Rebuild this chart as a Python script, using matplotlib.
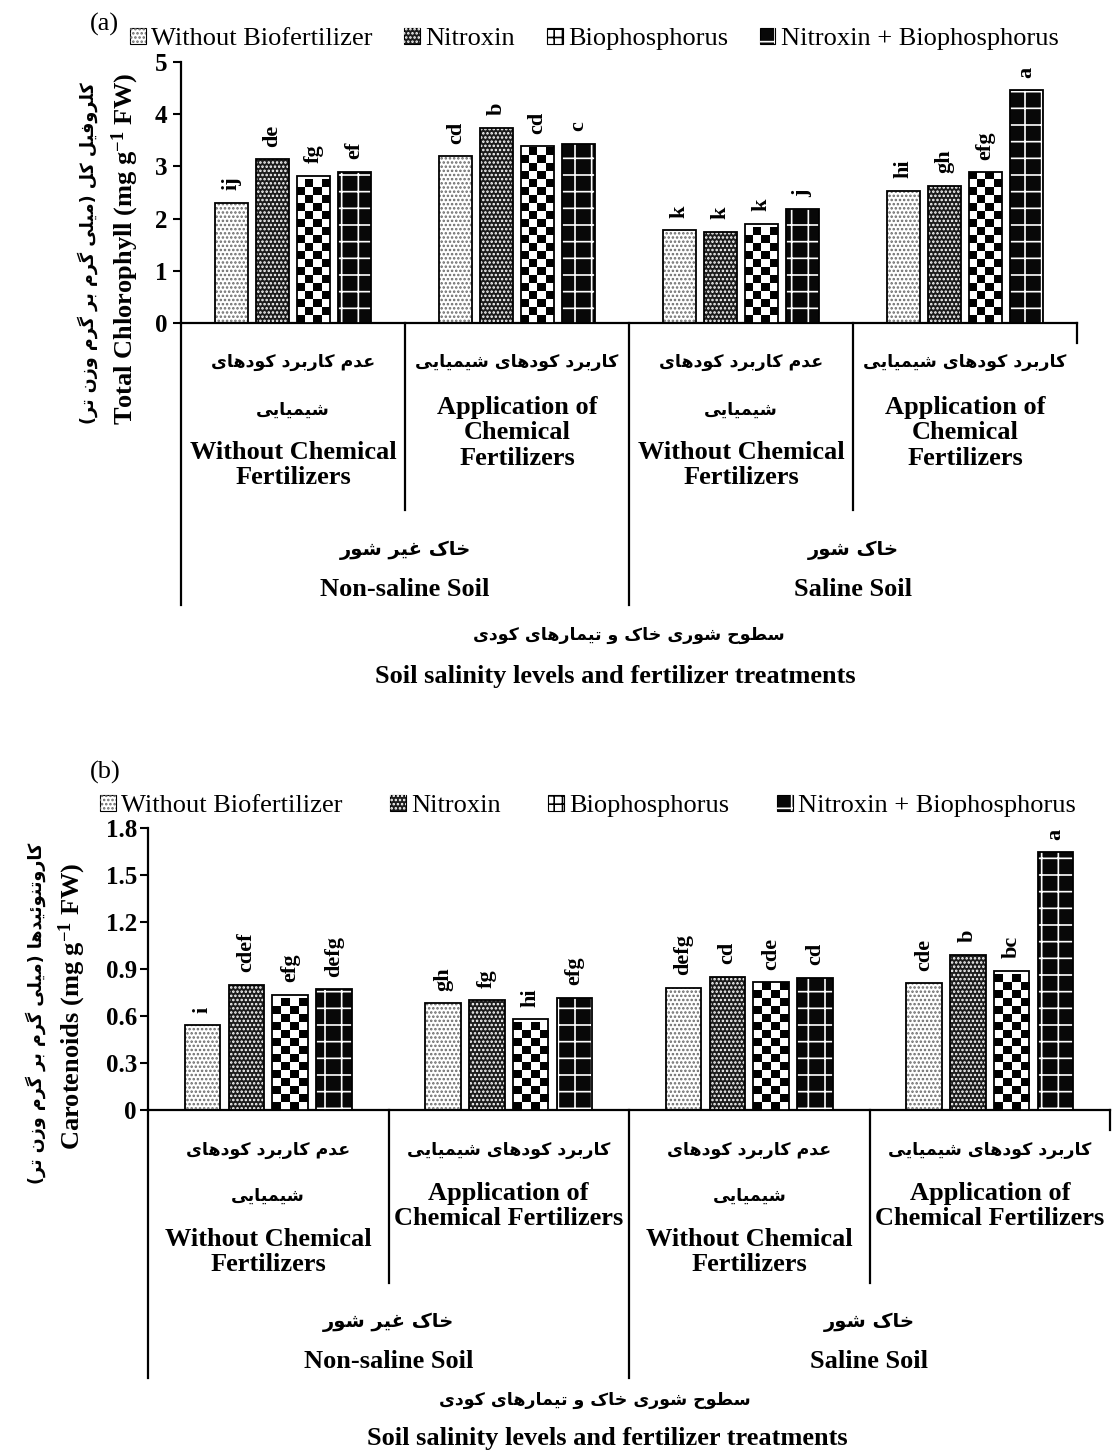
"""Total chlorophyll and carotenoids under soil salinity and fertilizer treatments."""

import matplotlib
matplotlib.use("Agg")
import matplotlib.pyplot as plt
import numpy as np
from matplotlib.font_manager import FontProperties
from matplotlib.legend_handler import HandlerTuple
from matplotlib.patches import Patch
from matplotlib.transforms import blended_transform_factory


# ---------------------------------------------------------------------------
# Data
# ---------------------------------------------------------------------------

series_names = ["Without Biofertilizer", "Nitroxin", "Biophosphorus",
                "Nitroxin + Biophosphorus"]

# groups: non-saline/no chem, non-saline/chem, saline/no chem, saline/chem
chlorophyll = [
    [2.30, 3.19, 1.78, 2.53],
    [3.14, 3.74, 1.75, 2.63],
    [2.82, 3.39, 1.90, 2.89],
    [2.90, 3.43, 2.18, 4.46],
]
chlorophyll_letters = [
    ["ij", "cd", "k", "hi"],
    ["de", "b", "k", "gh"],
    ["fg", "cd", "k", "efg"],
    ["ef", "c", "j", "a"],
]

carotenoids = [
    [0.54, 0.68, 0.78, 0.81],
    [0.80, 0.70, 0.85, 0.99],
    [0.735, 0.58, 0.815, 0.89],
    [0.77, 0.715, 0.845, 1.645],
]
carotenoid_letters = [
    ["i", "gh", "defg", "cde"],
    ["cdef", "fg", "cd", "b"],
    ["efg", "hi", "cde", "bc"],
    ["defg", "efg", "cd", "a"],
]

chl_ticks = [0, 1, 2, 3, 4, 5]
chl_ticklabels = ["0", "1", "2", "3", "4", "5"]
car_ticks = [0, 0.3, 0.6, 0.9, 1.2, 1.5, 1.8]
car_ticklabels = ["0", "0.3", "0.6", "0.9", "1.2", "1.5", "1.8"]

fert_fa = [["عدم کاربرد کودهای", "شیمیایی"], ["کاربرد کودهای شیمیایی"]] * 2
fert_en_a = ["Without Chemical\nFertilizers", "Application of\nChemical\nFertilizers"] * 2
fert_en_b = ["Without Chemical\nFertilizers", "Application of\nChemical Fertilizers"] * 2
soil_fa = ["خاک غیر شور", "خاک شور"]
soil_en = ["Non-saline Soil", "Saline Soil"]
xtitle_fa = "سطوح شوری خاک و تیمارهای کودی"
xtitle_en = "Soil salinity levels and fertilizer treatments"
ylabel_a_fa = "کلروفیل کل (میلی گرم بر گرم وزن تر)"
ylabel_a_en = r"Total Chlorophyll (mg g$^{-1}$ FW)"
ylabel_b_fa = "کاروتنوئیدها (میلی گرم بر گرم وزن تر)"
ylabel_b_en = r"Carotenoids (mg g$^{-1}$ FW)"


# ---------------------------------------------------------------------------
# Style
# ---------------------------------------------------------------------------

W, H = 1115, 1454
SERIF = "Liberation Serif"
PERSIAN = ["DejaVu Sans"]
plt.rcParams["mathtext.default"] = "regular"
plt.rcParams["hatch.linewidth"] = 1.2

FACES = ["white", "#1c1c1c", "white", "#080808"]
HATCHES = ["....", "....", None, "+"]
HATCH_COLORS = ["#6a6a6a", "white", None, "white"]
BAR_W = 0.147
BAR_STEP = 0.182


# ---------------------------------------------------------------------------
# Persian text helpers (matplotlib has no shaping / bidi)
# ---------------------------------------------------------------------------

# isolated, final, initial, medial
FORMS = {
    "ا": ("\uFE8D", "\uFE8E", None, None),
    "ب": ("\uFE8F", "\uFE90", "\uFE91", "\uFE92"),
    "ت": ("\uFE95", "\uFE96", "\uFE97", "\uFE98"),
    "ح": ("\uFEA1", "\uFEA2", "\uFEA3", "\uFEA4"),
    "خ": ("\uFEA5", "\uFEA6", "\uFEA7", "\uFEA8"),
    "د": ("\uFEA9", "\uFEAA", None, None),
    "ر": ("\uFEAD", "\uFEAE", None, None),
    "ز": ("\uFEAF", "\uFEB0", None, None),
    "س": ("\uFEB1", "\uFEB2", "\uFEB3", "\uFEB4"),
    "ش": ("\uFEB5", "\uFEB6", "\uFEB7", "\uFEB8"),
    "ط": ("\uFEC1", "\uFEC2", "\uFEC3", "\uFEC4"),
    "ع": ("\uFEC9", "\uFECA", "\uFECB", "\uFECC"),
    "غ": ("\uFECD", "\uFECE", "\uFECF", "\uFED0"),
    "ف": ("\uFED1", "\uFED2", "\uFED3", "\uFED4"),
    "ل": ("\uFEDD", "\uFEDE", "\uFEDF", "\uFEE0"),
    "م": ("\uFEE1", "\uFEE2", "\uFEE3", "\uFEE4"),
    "ن": ("\uFEE5", "\uFEE6", "\uFEE7", "\uFEE8"),
    "ه": ("\uFEE9", "\uFEEA", "\uFEEB", "\uFEEC"),
    "و": ("\uFEED", "\uFEEE", None, None),
    "ئ": ("\uFE89", "\uFE8A", "\uFE8B", "\uFE8C"),
    "ک": ("\uFB8E", "\uFB8F", "\uFB90", "\uFB91"),
    "گ": ("\uFB92", "\uFB93", "\uFB94", "\uFB95"),
    "ی": ("\uFBFC", "\uFBFD", "\uFBFE", "\uFBFF"),
}
MIRROR = {"(": ")", ")": "("}


def fa(text):
    """Shape Persian letters and reverse to visual (left-to-right) order."""
    out = []
    for i, ch in enumerate(text):
        if ch not in FORMS:
            out.append(MIRROR.get(ch, ch))
            continue
        prev = text[i - 1] if i > 0 else ""
        nxt = text[i + 1] if i + 1 < len(text) else ""
        join_prev = prev in FORMS and FORMS[prev][2] is not None
        join_next = nxt in FORMS and FORMS[ch][2] is not None
        iso, fin, ini, med = FORMS[ch]
        if join_prev and join_next:
            out.append(med)
        elif join_prev:
            out.append(fin)
        elif join_next:
            out.append(ini)
        else:
            out.append(iso)
    return "".join(reversed(out))


def fy(px):
    return 1 - px / H


# ---------------------------------------------------------------------------
# Panel
# ---------------------------------------------------------------------------

def add_checker(ax, patch, ppu_x, ppu_y, cell=8.0):
    x0, w, h = patch.get_x(), patch.get_width(), patch.get_height()
    ncol = max(1, int(round(w * ppu_x / cell)))
    nrow = max(1, int(round(h * ppu_y / cell)))
    board = np.indices((nrow, ncol)).sum(axis=0) % 2
    im = ax.imshow(board, cmap="gray", vmin=0, vmax=1, origin="lower",
                   extent=(x0, x0 + w, 0, nrow * cell / ppu_y),
                   interpolation="nearest", aspect="auto", zorder=3)
    im.set_clip_path(patch)


def draw_panel(fig, rect_px, values, letters, ticks, ticklabels, ymax):
    left, top, right, bottom = rect_px
    ax = fig.add_axes([left / W, fy(bottom), (right - left) / W, (bottom - top) / H])
    ppu_x = (right - left) / 4.0
    ppu_y = (bottom - top) / ymax
    x = np.arange(4)
    for i in range(4):
        pos = x + (i - 1.5) * BAR_STEP
        bars = ax.bar(pos, values[i], BAR_W, color=FACES[i], edgecolor="none", zorder=2)
        if HATCHES[i]:
            ax.bar(pos, values[i], BAR_W, fill=False, hatch=HATCHES[i],
                   edgecolor=HATCH_COLORS[i], linewidth=0, zorder=3)
        else:
            for p in bars.patches:
                add_checker(ax, p, ppu_x, ppu_y)
        ax.bar(pos, values[i], BAR_W, fill=False, edgecolor="black",
               linewidth=1.3, zorder=4)
        for xp, v, lab in zip(pos, values[i], letters[i]):
            ax.annotate(lab, (xp, v), xytext=(0, 9), textcoords="offset points",
                        rotation=90, ha="center", va="bottom", fontsize=16,
                        fontweight="bold", family=SERIF)
    ax.set_xlim(-0.5, 3.5)
    ax.set_ylim(0, ymax)
    ax.set_xticks([])
    ax.set_yticks(ticks)
    ax.set_yticklabels(ticklabels, fontsize=18, fontweight="bold", family=SERIF)
    ax.tick_params(axis="y", direction="out", length=6, width=1.5, pad=4)
    for side in ("top", "right"):
        ax.spines[side].set_visible(False)
    for side in ("left", "bottom"):
        ax.spines[side].set_linewidth(1.6)
    return ax


def category_axis(fig, ax, axis_y, inner_bottom, outer_bottom, fa_y, en_centers,
                  en_labels, soil_fa_y, soil_en_y):
    tr = blended_transform_factory(ax.transData, fig.transFigure)
    for xb, yb in zip([-0.5, 0.5, 1.5, 2.5, 3.5],
                      [outer_bottom, inner_bottom, outer_bottom, inner_bottom, axis_y + 20]):
        ax.plot([xb, xb], [fy(axis_y), fy(yb)], transform=tr, color="black",
                lw=1.6, clip_on=False)
    for g in range(4):
        for k, line in enumerate(fert_fa[g]):
            ax.text(g, fy(fa_y[k]), fa(line), transform=tr, ha="center", va="center",
                    fontsize=12.5, fontweight="bold", family=PERSIAN)
        ax.text(g, fy(en_centers[g % 2]), en_labels[g], transform=tr, ha="center",
                va="center", fontsize=19, fontweight="bold", family=SERIF,
                linespacing=1.12)
    for s in range(2):
        ax.text(2 * s + 0.5, fy(soil_fa_y), fa(soil_fa[s]), transform=tr, ha="center",
                va="center", fontsize=14, fontweight="bold", family=PERSIAN)
        ax.text(2 * s + 0.5, fy(soil_en_y), soil_en[s], transform=tr, ha="center",
                va="center", fontsize=19, fontweight="bold", family=SERIF)


def legend(fig, x0, y, spacing):
    handles = []
    for i in range(4):
        if HATCHES[i]:
            handles.append((Patch(facecolor=FACES[i], edgecolor="black", lw=0.8),
                            Patch(fill=False, hatch=HATCHES[i], edgecolor=HATCH_COLORS[i], lw=0)))
        else:
            handles.append(Patch(facecolor="white", edgecolor="black", hatch="++", lw=0.8))
    fig.legend(handles, series_names, loc="center left",
               bbox_to_anchor=(x0 / W, fy(y)), ncol=4, frameon=False,
               borderpad=0, borderaxespad=0, handlelength=0.6, handleheight=0.6,
               handletextpad=0.2, columnspacing=spacing,
               handler_map={tuple: HandlerTuple(ndivide=1)},
               prop=FontProperties(family=SERIF, size=19))


fig = plt.figure(figsize=(W / 100, H / 100), dpi=100)

# ----- panel (a) -----
ax_a = draw_panel(fig, (181, 62, 1077, 323), chlorophyll, chlorophyll_letters,
                  chl_ticks, chl_ticklabels, 5)
category_axis(fig, ax_a, 323, 510, 605, [362, 410], [465, 433], fert_en_a, 550, 590)
fig.text(90 / W, fy(24), "(a)", fontsize=19, family=SERIF, va="center")
legend(fig, 130, 39, 1.2)
fig.text(125 / W, fy(249), ylabel_a_en, rotation=90, ha="center", va="center",
         fontsize=19, fontweight="bold", family=SERIF)
fig.text(88 / W, fy(253), fa(ylabel_a_fa), rotation=90, ha="center", va="center",
         fontsize=12.7, fontweight="bold", family=PERSIAN)
fig.text(629 / W, fy(635), fa(xtitle_fa), ha="center", va="center", fontsize=12.5,
         fontweight="bold", family=PERSIAN)
fig.text(615 / W, fy(677), xtitle_en, ha="center", va="center", fontsize=19,
         fontweight="bold", family=SERIF)

# ----- panel (b) -----
ax_b = draw_panel(fig, (148, 828, 1110, 1110), carotenoids, carotenoid_letters,
                  car_ticks, car_ticklabels, 1.8)
ax_b.tick_params(axis="y", pad=2)
category_axis(fig, ax_b, 1110, 1283, 1378, [1150, 1196], [1252, 1206], fert_en_b, 1322, 1361)
fig.text(90 / W, fy(772), "(b)", fontsize=19, family=SERIF, va="center")
legend(fig, 100, 806, 1.8)
fig.text(72 / W, fy(1006), ylabel_b_en, rotation=90, ha="center", va="center",
         fontsize=19, fontweight="bold", family=SERIF)
fig.text(36 / W, fy(1013), fa(ylabel_b_fa), rotation=90, ha="center", va="center",
         fontsize=12.7, fontweight="bold", family=PERSIAN)
fig.text(595 / W, fy(1400), fa(xtitle_fa), ha="center", va="center", fontsize=12.5,
         fontweight="bold", family=PERSIAN)
fig.text(607 / W, fy(1438), xtitle_en, ha="center", va="center", fontsize=19,
         fontweight="bold", family=SERIF)

fig.savefig("out.png", dpi=100)
